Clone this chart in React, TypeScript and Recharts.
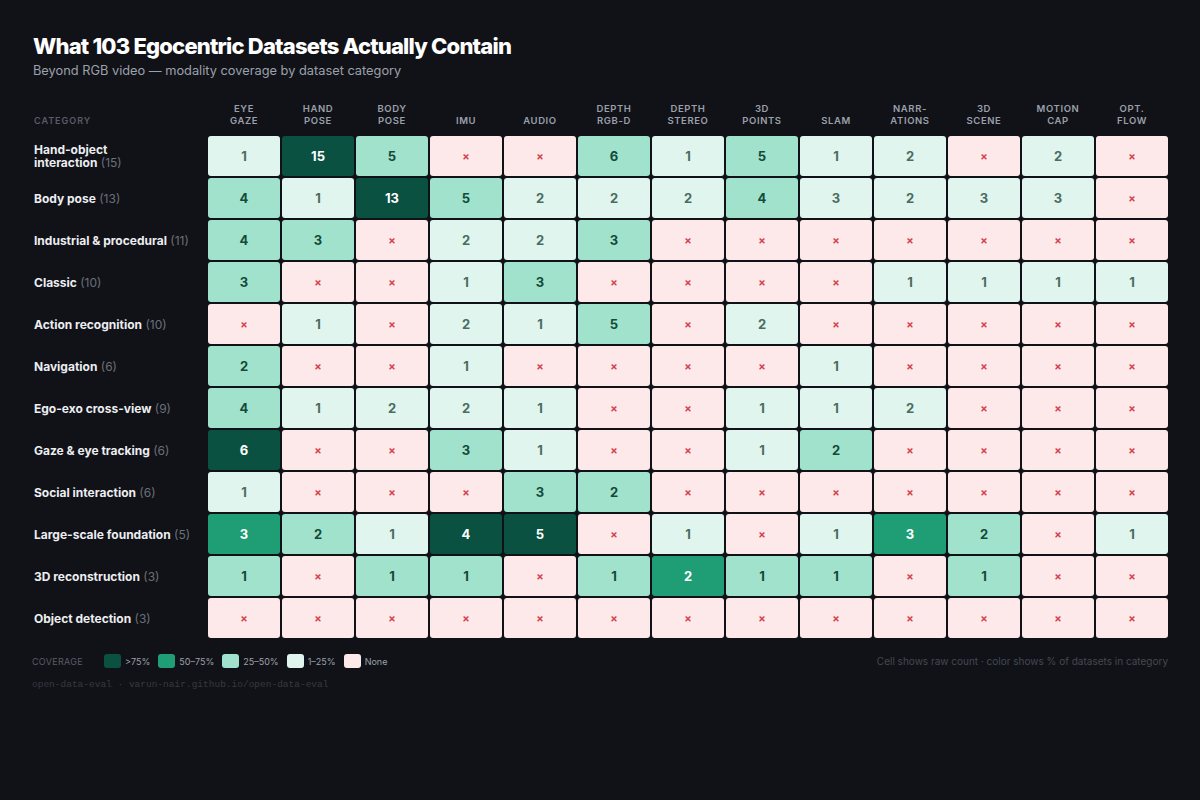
import React from 'react';
import { ScatterChart, Scatter, XAxis, YAxis } from 'recharts';

// modality columns (line breaks are drawn as two header lines)
const MODALITIES = [
  'EYE\nGAZE', 'HAND\nPOSE', 'BODY\nPOSE', 'IMU', 'AUDIO', 'DEPTH\nRGB-D', 'DEPTH\nSTEREO',
  '3D\nPOINTS', 'SLAM', 'NARR-\nATIONS', '3D\nSCENE', 'MOTION\nCAP', 'OPT.\nFLOW',
];

const CATEGORIES = [
  'Hand-object\ninteraction', 'Body pose', 'Industrial & procedural', 'Classic', 'Action recognition',
  'Navigation', 'Ego-exo cross-view', 'Gaze & eye tracking', 'Social interaction',
  'Large-scale foundation', '3D reconstruction', 'Object detection',
];

// datasets per category
const TOTALS = [15, 13, 11, 10, 10, 6, 9, 6, 6, 5, 3, 3];

// datasets per category that include each modality
const handObject = [1, 15, 5, 0, 0, 6, 1, 5, 1, 2, 0, 2, 0];
const bodyPose = [4, 1, 13, 5, 2, 2, 2, 4, 3, 2, 3, 3, 0];
const industrial = [4, 3, 0, 2, 2, 3, 0, 0, 0, 0, 0, 0, 0];
const classic = [3, 0, 0, 1, 3, 0, 0, 0, 0, 1, 1, 1, 1];
const actionRecognition = [0, 1, 0, 2, 1, 5, 0, 2, 0, 0, 0, 0, 0];
const navigation = [2, 0, 0, 1, 0, 0, 0, 0, 1, 0, 0, 0, 0];
const egoExo = [4, 1, 2, 2, 1, 0, 0, 1, 1, 2, 0, 0, 0];
const gazeTracking = [6, 0, 0, 3, 1, 0, 0, 1, 2, 0, 0, 0, 0];
const social = [1, 0, 0, 0, 3, 2, 0, 0, 0, 0, 0, 0, 0];
const largeScale = [3, 2, 1, 4, 5, 0, 1, 0, 1, 3, 2, 0, 1];
const reconstruction3d = [1, 0, 1, 1, 0, 1, 2, 1, 1, 0, 1, 0, 0];
const objectDetection = [0, 0, 0, 0, 0, 0, 0, 0, 0, 0, 0, 0, 0];

const ROWS = [
  handObject, bodyPose, industrial, classic, actionRecognition, navigation,
  egoExo, gazeTracking, social, largeScale, reconstruction3d, objectDetection,
];

const LEGEND = [
  { label: '>75%', color: '#0b5142' },
  { label: '50–75%', color: '#1f9e75' },
  { label: '25–50%', color: '#a0e2cc' },
  { label: '1–25%', color: '#e0f5ee' },
  { label: 'None', color: '#fde9ea' },
];

const BG = '#111217';
const FONT = 'Inter, "Noto Sans", sans-serif';

const W = 1200;
const H = 800;
const MARGIN = { top: 95, right: 31, bottom: 161, left: 0 };
const Y_AXIS_W = 207;
const X_AXIS_H = 40;
const PLOT_W = W - MARGIN.left - MARGIN.right - Y_AXIS_W;
const PLOT_H = H - MARGIN.top - MARGIN.bottom - X_AXIS_H;
const CELL_W = PLOT_W / MODALITIES.length - 2;
const CELL_H = PLOT_H / CATEGORIES.length - 2;

const cells = ROWS.flatMap((row, y) =>
  row.map((count, x) => ({ x, y, count, pct: count / TOTALS[y] }))
);

const fillFor = (count: number, pct: number) => {
  if (count === 0) return LEGEND[4].color;
  if (pct > 0.75) return LEGEND[0].color;
  if (pct > 0.5) return LEGEND[1].color;
  if (pct >= 0.25) return LEGEND[2].color;
  return LEGEND[3].color;
};

const textFor = (pct: number) => {
  if (pct > 0.5) return '#ffffff';
  if (pct >= 0.25) return '#134a3a';
  return '#4b6c60';
};

const HeatCell = (props: any) => {
  const { cx, cy, payload } = props;
  if (cx == null || cy == null) return null;
  const { count, pct } = payload;
  return (
    <g>
      <rect
        x={cx - CELL_W / 2}
        y={cy - CELL_H / 2}
        width={CELL_W}
        height={CELL_H}
        rx={3}
        fill={fillFor(count, pct)}
      />
      {count > 0 ? (
        <text x={cx} y={cy + 4.5} textAnchor="middle" fontFamily={FONT} fontSize={13} fontWeight={700} fill={textFor(pct)}>
          {count}
        </text>
      ) : (
        <text x={cx} y={cy + 4} textAnchor="middle" fontFamily={FONT} fontSize={11} fontWeight={700} fill="#d5424d">
          ×
        </text>
      )}
    </g>
  );
};

const ModalityTick = (props: any) => {
  const { x, y, payload } = props;
  const lines = MODALITIES[payload.value].split('\n');
  return (
    <text textAnchor="middle" fontFamily={FONT} fontSize={9.5} fontWeight={600} letterSpacing={0.6} fill="#9aa0ab">
      {lines.map((line, i) => (
        <tspan key={i} x={x} y={y - (lines.length - 1 - i) * 12}>
          {line}
        </tspan>
      ))}
    </text>
  );
};

const CategoryTick = (props: any) => {
  const { y, payload } = props;
  const i = payload.value;
  const lines = CATEGORIES[i].split('\n');
  const lineGap = 12.5;
  const top = y + 4.5 - ((lines.length - 1) * lineGap) / 2;
  return (
    <text textAnchor="start" fontFamily={FONT} fontSize={12} fontWeight={700} fill="#eceef1">
      {lines.map((line, k) => (
        <tspan key={k} x={34} y={top + k * lineGap}>
          {line}
          {k === lines.length - 1 ? (
            <tspan fontWeight={400} fill="#6b7079">{` (${TOTALS[i]})`}</tspan>
          ) : null}
        </tspan>
      ))}
    </text>
  );
};

export default function App() {
  return (
    <div style={{ position: 'absolute', left: 0, top: 0, width: W, height: H, background: BG, fontFamily: FONT }}>
      <div style={{ position: 'absolute', left: 33, top: 33, fontSize: 22, fontWeight: 800, color: '#ffffff', letterSpacing: -0.8 }}>
        What 103 Egocentric Datasets Actually Contain
      </div>
      <div style={{ position: 'absolute', left: 33, top: 63, fontSize: 12.8, color: '#9ba1ab' }}>
        Beyond RGB video — modality coverage by dataset category
      </div>
      <div style={{ position: 'absolute', left: 34, top: 115, fontSize: 9, fontWeight: 600, letterSpacing: 1, color: '#575d68' }}>
        CATEGORY
      </div>

      <ScatterChart width={W} height={H} margin={MARGIN}>
        <XAxis
          type="number"
          dataKey="x"
          orientation="top"
          domain={[-0.5, MODALITIES.length - 0.5]}
          ticks={MODALITIES.map((_, i) => i)}
          interval={0}
          height={X_AXIS_H}
          axisLine={false}
          tickLine={false}
          tickSize={0}
          tickMargin={11}
          tick={<ModalityTick />}
        />
        <YAxis
          type="number"
          dataKey="y"
          reversed
          domain={[-0.5, CATEGORIES.length - 0.5]}
          ticks={CATEGORIES.map((_, i) => i)}
          interval={0}
          width={Y_AXIS_W}
          axisLine={false}
          tickLine={false}
          tick={<CategoryTick />}
        />
        <Scatter data={cells} shape={<HeatCell />} isAnimationActive={false} />
      </ScatterChart>

      <div style={{ position: 'absolute', left: 32, top: 654, display: 'flex', alignItems: 'center', fontSize: 9, color: '#9ba1ab' }}>
        <span style={{ letterSpacing: 0.3, color: '#575d68', marginRight: 21, fontSize: 9 }}>COVERAGE</span>
        {LEGEND.map((item) => (
          <span key={item.label} style={{ display: 'flex', alignItems: 'center', marginRight: 8 }}>
            <span style={{ width: 17, height: 14, borderRadius: 3, background: item.color, marginRight: 4 }} />
            {item.label}
          </span>
        ))}
      </div>
      <div style={{ position: 'absolute', right: 32, top: 655, fontSize: 10, color: '#434854' }}>
        Cell shows raw count · color shows % of datasets in category
      </div>
      <div style={{ position: 'absolute', left: 32, top: 679, fontSize: 9.5, fontFamily: '"Liberation Mono", monospace', color: '#353943' }}>
        open-data-eval · varun-nair.github.io/open-data-eval
      </div>
    </div>
  );
}
